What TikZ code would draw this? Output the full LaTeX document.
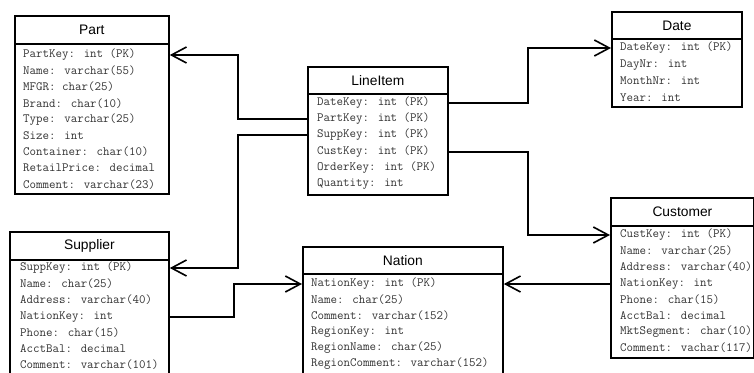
\documentclass[tikz,border=0pt]{standalone}
\usepackage{fontspec}
\setmainfont{Liberation Sans}
\usetikzlibrary{arrows.meta}
\begin{document}
\begin{tikzpicture}[x=1pt,y=-1pt,
  box/.style={draw, line width=1.8pt, inner sep=0pt, anchor=north west, fill=white},
  ttl/.style={box, font=\fontsize{13.8}{15}\selectfont, text=black},
  row/.style={anchor=west, inner sep=0pt, font=\ttfamily\fontsize{12.6}{13}\selectfont, text=black!80},
  conn/.style={line width=2pt},
  arr/.style={conn, -{Straight Barb[length=15pt,width=16pt,line width=1.6pt]}},
]
\useasboundingbox (0,0) rectangle (754,372);

% Part
\node[ttl, minimum width=154pt, minimum height=28pt] (part-h) at (14,15) {Part};
\node[box, minimum width=154pt, minimum height=150pt] (part-b) at (14,43) {};
\foreach \t [count=\i from 0] in {PartKey: int (PK),Name: varchar(55),MFGR: char(25),Brand: char(10),Type: varchar(25),Size: int,Container: char(10),RetailPrice: decimal,Comment: varchar(23)}
  \node[row] (part-\i) at (23,{round(55+16.2*\i)}) {\t};

% LineItem
\node[ttl, minimum width=140pt, minimum height=27pt] (li-h) at (307,66) {LineItem};
\node[box, minimum width=140pt, minimum height=101pt] (li-b) at (307,93) {};
\foreach \t [count=\i from 0] in {DateKey: int (PK),PartKey: int (PK),SuppKey: int (PK),CustKey: int (PK),OrderKey: int (PK),Quantity: int}
  \node[row] (li-\i) at (317,{round(103+16.2*\i)}) {\t};

% Date
\node[ttl, minimum width=130pt, minimum height=27pt] (date-h) at (611,11) {Date};
\node[box, minimum width=130pt, minimum height=68pt] (date-b) at (611,38) {};
\foreach \t [count=\i from 0] in {DateKey: int (PK),DayNr: int,MonthNr: int,Year: int}
  \node[row] (date-\i) at (620,{round(48+16.5*\i)}) {\t};

% Customer
\node[ttl, minimum width=143pt, minimum height=28pt] (cust-h) at (610,197) {Customer};
\node[box, minimum width=143pt, minimum height=132pt] (cust-b) at (610,225) {};
\foreach \t [count=\i from 0] in {CustKey: int (PK),Name: varchar(25),Address: varchar(40),NationKey: int,Phone: char(15),AcctBal: decimal,MktSegment: char(10),Comment: vachar(117)}
  \node[row] (cust-\i) at (620,{round(235+16.2*\i)}) {\t};

% Supplier
\node[ttl, minimum width=159pt, minimum height=28pt] (sup-h) at (9,231) {Supplier};
\node[box, minimum width=159pt, minimum height=120pt] (sup-b) at (9,259) {};
\foreach \t [count=\i from 0] in {SuppKey: int (PK),Name: char(25),Address: varchar(40),NationKey: int,Phone: char(15),AcctBal: decimal,Comment: varchar(101)}
  \node[row] (sup-\i) at (20,{round(268+16.2*\i)}) {\t};

% Nation
\node[ttl, minimum width=200pt, minimum height=27pt] (nat-h) at (302,246) {Nation};
\node[box, minimum width=200pt, minimum height=110pt] (nat-b) at (302,273) {};
\foreach \t [count=\i from 0] in {NationKey: int (PK),Name: char(25),Comment: varchar(152),RegionKey: int,RegionName: char(25),RegionComment: varchar(152)}
  \node[row] (nat-\i) at (311,{284+16*\i}) {\t};

% bus coordinates
\coordinate (busL) at (238,0);
\coordinate (busR) at (528,0);
\coordinate (busN) at (234,0);

% connectors
\draw[arr] (li-1 -| li-b.west) -- (li-1 -| busL) |- (part-0 -| part-b.east);
\draw[arr] (li-2 -| li-b.west) -- (li-2 -| busL) |- (sup-0 -| sup-b.east);
\draw[arr] (li-0 -| li-b.east) -- (li-0 -| busR) |- (date-0 -| date-b.west);
\draw[arr] (li-3 -| li-b.east) -- (li-3 -| busR) |- (cust-0 -| cust-b.west);
\draw[arr] (sup-3 -| sup-b.east) -- (sup-3 -| busN) |- (nat-0 -| nat-b.west);
\draw[arr] (cust-3 -| cust-b.west) -- (cust-3 -| nat-b.east);
\end{tikzpicture}
\end{document}
